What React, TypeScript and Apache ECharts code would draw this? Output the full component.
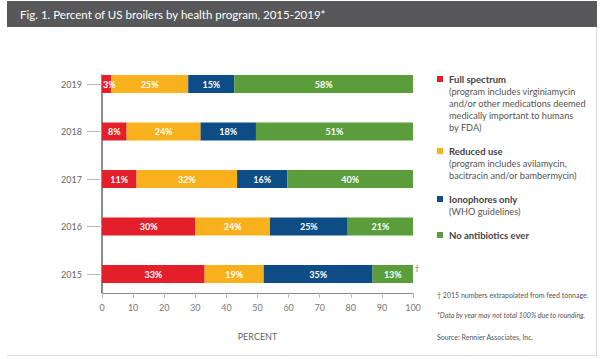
import React, { useEffect, useRef } from "react";
import * as echarts from "echarts";

const years = ["2015", "2016", "2017", "2018", "2019"];
const seriesNames = ["Full spectrum", "Reduced use", "Ionophores only", "No antibiotics ever"];
const fullSpectrum = [33, 30, 11, 8, 3];
const reducedUse = [19, 24, 32, 24, 25];
const ionophoresOnly = [35, 25, 16, 18, 15];
const noAntibiotics = [13, 21, 40, 51, 58];
const colors = ["#e3202a", "#f8b01c", "#0d4c85", "#5b9d3a"];
const descriptions = [
  ["(program includes virginiamycin", "and/or other medications deemed", "medically important to humans", "by FDA)"],
  ["(program includes avilamycin,", "bacitracin and/or bambermycin)"],
  ["(WHO guidelines)"],
  [],
];
const xTicks = { min: 0, max: 100, interval: 10 };
const footnotes = [
  "† 2015 numbers extrapolated from feed tonnage.",
  "*Data by year may not total 100% due to rounding.",
  "Source: Rennier Associates, Inc.",
];
const titleText = "Fig. 1. Percent of US broilers by health program, 2015-2019*";

const FONT = "Lato, 'Noto Sans', sans-serif";

export default function App() {
  const ref = useRef<HTMLDivElement>(null);
  useEffect(() => {
    if (!ref.current) return;
    const chart = echarts.init(ref.current, null, { renderer: "svg" });
    const all = [fullSpectrum, reducedUse, ionophoresOnly, noAntibiotics];
    const totals = years.map((_, i) => all.reduce((s, arr) => s + arr[i], 0));

    const series = all.map((arr, si) => ({
      name: seriesNames[si],
      type: "bar",
      stack: "total",
      xAxisIndex: 0,
      yAxisIndex: 0,
      barWidth: 18,
      itemStyle: { color: colors[si] },
      label: {
        show: true,
        position: "inside",
        color: "#fff",
        fontWeight: "bold",
        fontSize: 9,
        fontFamily: FONT,
        formatter: (p: any) => arr[p.dataIndex] + "%",
      },
      data: arr.map((v, i) => {
        const val = (v / totals[i]) * 100;
        if (v < 5) {
          return { value: val, label: { position: "insideLeft", distance: 1 } };
        }
        return val;
      }),
    }));

    const graphics: any[] = [
      { type: "rect", shape: { x: 7, y: 1, width: 590, height: 26 }, style: { fill: "#58585a" }, z: 0 },
      { type: "line", shape: { x1: 596.5, y1: 27, x2: 596.5, y2: 355 }, style: { stroke: "#dcdcdc", lineWidth: 1 } },
      { type: "line", shape: { x1: 7, y1: 355.5, x2: 597, y2: 355.5 }, style: { stroke: "#dcdcdc", lineWidth: 1 } },
      {
        type: "text",
        x: 20,
        y: 14,
        style: { text: titleText, fill: "#fff", fontSize: 11.5, fontFamily: FONT, verticalAlign: "middle" },
      },
      {
        type: "text",
        x: 415,
        y: 268,
        style: { text: "†", fill: "#555", fontSize: 7, fontFamily: FONT, verticalAlign: "middle" },
      },
    ];

    let y = 79;
    seriesNames.forEach((name, i) => {
      graphics.push({ type: "rect", shape: { x: 437, y: y - 3, width: 6, height: 6 }, style: { fill: colors[i] } });
      graphics.push({
        type: "text",
        x: 449,
        y,
        style: { text: name, fill: "#444", fontSize: 9.5, fontWeight: "bold", fontFamily: FONT, verticalAlign: "middle" },
      });
      let last = y;
      descriptions[i].forEach((d, j) => {
        last = y + 12 * (j + 1);
        graphics.push({
          type: "text",
          x: 449,
          y: last,
          style: { text: d, fill: "#555", fontSize: 9.2, fontFamily: FONT, verticalAlign: "middle" },
        });
      });
      y = last + 24;
    });

    const fy = [295, 315, 337];
    footnotes.forEach((t, i) => {
      graphics.push({
        type: "text",
        x: 437,
        y: fy[i],
        style: {
          text: t,
          fill: "#555",
          fontSize: 7,
          fontStyle: i === 1 ? "italic" : "normal",
          fontFamily: FONT,
          verticalAlign: "middle",
        },
      });
    });

    chart.setOption({
      animation: false,
      backgroundColor: "#fff",
      grid: [
        { left: 102, width: 311, top: 60.25, height: 237.5 },
        { left: 102, width: 311, top: 75, height: 218 },
      ],
      xAxis: [
        { type: "value", gridIndex: 0, min: 0, max: 100, show: false },
        {
          type: "value",
          gridIndex: 1,
          min: xTicks.min,
          max: xTicks.max,
          interval: xTicks.interval,
          axisLine: { show: true, lineStyle: { color: "#8a8a8a", width: 1 } },
          axisTick: { show: true, length: 5, lineStyle: { color: "#bbb" } },
          axisLabel: { color: "#777", fontSize: 9, margin: 10, fontFamily: FONT },
          splitLine: { show: false },
          name: "PERCENT",
          nameLocation: "middle",
          nameGap: 39,
          nameTextStyle: { color: "#666", fontSize: 9, fontFamily: FONT },
        },
      ],
      yAxis: [
        {
          type: "category",
          gridIndex: 0,
          data: years,
          axisLine: { show: false },
          axisTick: { show: true, alignWithLabel: true, length: 15, lineStyle: { color: "#bbb" } },
          axisLabel: { color: "#666", fontSize: 9, margin: 20, fontFamily: FONT },
        },
        {
          type: "value",
          gridIndex: 1,
          axisLine: { show: true, lineStyle: { color: "#666", width: 1.5 } },
          axisTick: { show: false },
          axisLabel: { show: false },
          splitLine: { show: false },
        },
      ],
      series,
      graphic: graphics,
    });
    return () => chart.dispose();
  }, []);
  return <div ref={ref} style={{ position: "fixed", left: 0, top: 0, width: 600, height: 359 }} />;
}
